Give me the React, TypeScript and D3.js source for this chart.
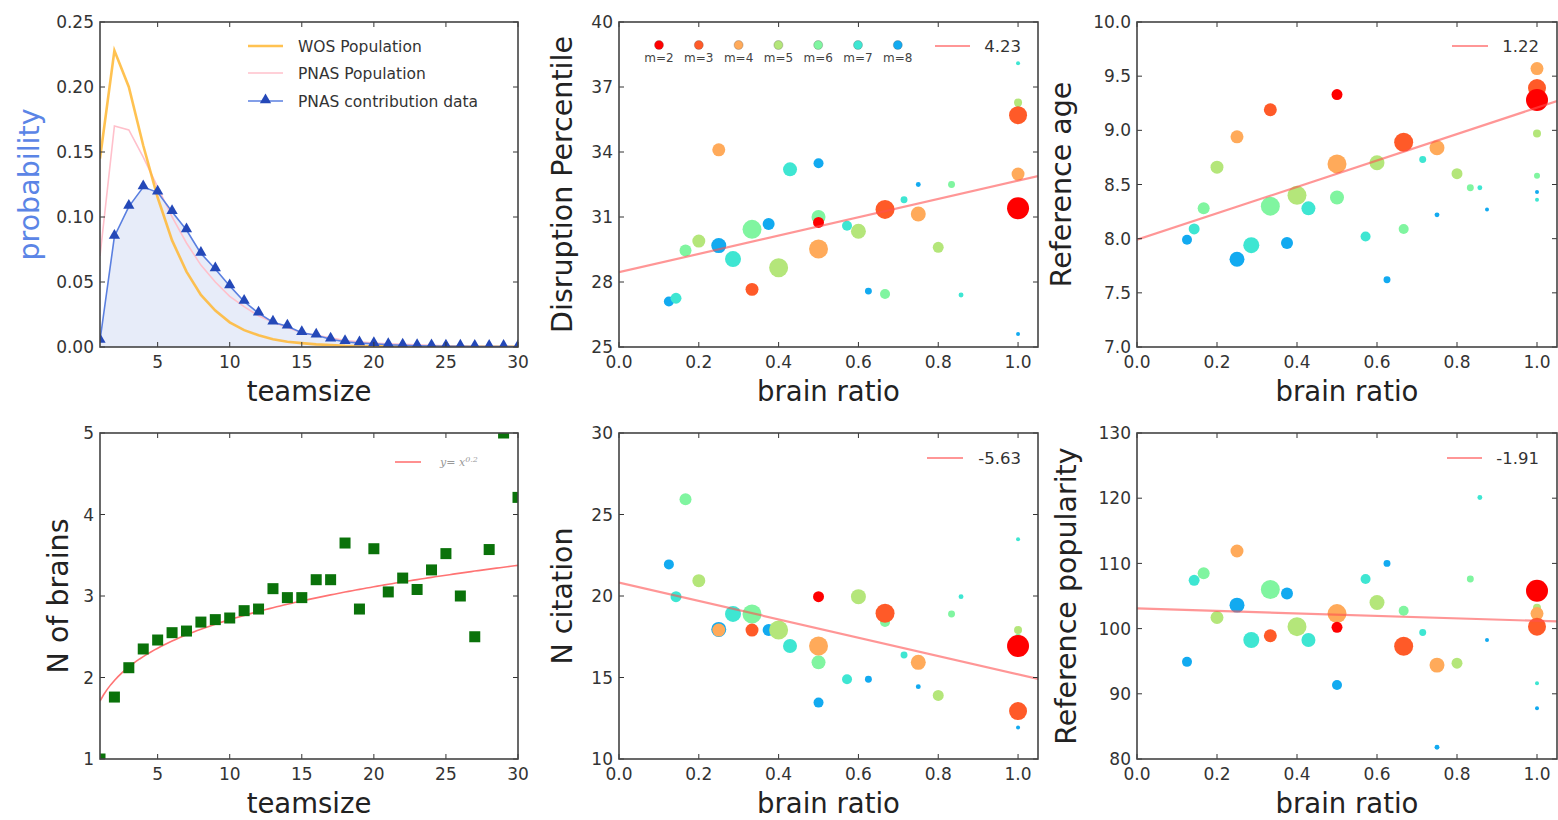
import React from 'react';
import * as d3 from 'd3';

// ---------------- data ----------------
const teamsize = [1, 2, 3, 4, 5, 6, 7, 8, 9, 10, 11, 12, 13, 14, 15, 16, 17, 18, 19, 20, 21, 22, 23, 24, 25, 26, 27, 28, 29, 30];
const teamTicks = [5, 10, 15, 20, 25, 30];
const probTicks = [0, 0.05, 0.1, 0.15, 0.2, 0.25];

const wosPopulation = [0.145, 0.228, 0.2, 0.155, 0.115, 0.082, 0.058, 0.04, 0.028, 0.019, 0.013, 0.009, 0.006, 0.004, 0.003, 0.002, 0.0015, 0.001, 0.0008, 0.0006, 0.0005, 0.0004, 0.0003, 0.0003, 0.0002, 0.0002, 0.0001, 0.0001, 0.0001, 0.0001];
const pnasPopulation = [0.07, 0.17, 0.167, 0.146, 0.123, 0.1, 0.08, 0.063, 0.05, 0.039, 0.031, 0.024, 0.019, 0.015, 0.011, 0.009, 0.007, 0.005, 0.004, 0.003, 0.0025, 0.002, 0.0016, 0.0013, 0.001, 0.0008, 0.0006, 0.0005, 0.0004, 0.0003];
const pnasContribution = [0.005, 0.085, 0.108, 0.123, 0.119, 0.104, 0.09, 0.072, 0.06, 0.047, 0.035, 0.026, 0.019, 0.016, 0.011, 0.009, 0.006, 0.004, 0.003, 0.0025, 0.0017, 0.0013, 0.001, 0.0008, 0.0006, 0.0005, 0.0004, 0.0003, 0.0003, 0.0002];

const nBrains = [1.0, 1.76, 2.12, 2.35, 2.46, 2.55, 2.57, 2.68, 2.71, 2.73, 2.82, 2.84, 3.09, 2.98, 2.98, 3.2, 3.2, 3.65, 2.84, 3.58, 3.05, 3.22, 3.08, 3.32, 3.52, 3.0, 2.5, 3.57, 5.0, 4.21];
const brainTicks = [1, 2, 3, 4, 5];
const fitCoef = 1.71;
const fitExp = 0.2;

const ratioTicks = [0, 0.2, 0.4, 0.6, 0.8, 1.0];
const mValues = [2, 3, 4, 5, 6, 7, 8];
const mColors = ['#ff0000', '#ff5a28', '#ffaa5a', '#b4e67a', '#80f5a0', '#3ee6d2', '#12aaf0'];
// marker weight per (m, k) -> area of dot
const pointWeight: Record<number, number[]> = {
  2: [30, 121],
  3: [42, 90, 81],
  4: [42, 90, 56, 42],
  5: [42, 90, 56, 30, 16],
  6: [36, 90, 49, 25, 12, 9],
  7: [30, 64, 49, 25, 12, 6, 4],
  8: [25, 56, 36, 25, 12, 6, 4, 4],
};

// [k, m, value]  (brain ratio = k / m)
const disruption: [number, number, number][] = [
  [1, 8, 27.1], [2, 8, 29.68], [3, 8, 30.68], [4, 8, 33.48], [5, 8, 27.58], [6, 8, 32.5], [8, 8, 25.6],
  [1, 7, 27.25], [2, 7, 29.06], [3, 7, 33.2], [4, 7, 30.6], [5, 7, 31.8], [6, 7, 27.4], [7, 7, 38.1],
  [1, 6, 29.45], [2, 6, 30.43], [3, 6, 31.0], [4, 6, 27.45], [5, 6, 32.5], [6, 6, 36.2],
  [1, 5, 29.89], [2, 5, 28.66], [3, 5, 30.34], [4, 5, 29.6], [5, 5, 36.28],
  [1, 4, 34.1], [2, 4, 29.52], [3, 4, 31.14], [4, 4, 32.98],
  [1, 3, 27.66], [2, 3, 31.35], [3, 3, 35.7],
  [1, 2, 30.75], [2, 2, 31.4],
];
const refAge: [number, number, number][] = [
  [1, 8, 7.99], [2, 8, 7.81], [3, 8, 7.96], [4, 8, 8.65], [5, 8, 7.62], [6, 8, 8.22], [7, 8, 8.27], [8, 8, 8.43],
  [1, 7, 8.09], [2, 7, 7.94], [3, 7, 8.28], [4, 7, 8.02], [5, 7, 8.73], [6, 7, 8.47], [7, 7, 8.36],
  [1, 6, 8.28], [2, 6, 8.3], [3, 6, 8.38], [4, 6, 8.09], [5, 6, 8.47], [6, 6, 8.58],
  [1, 5, 8.66], [2, 5, 8.4], [3, 5, 8.7], [4, 5, 8.6], [5, 5, 8.97],
  [1, 4, 8.94], [2, 4, 8.69], [3, 4, 8.84], [4, 4, 9.57],
  [1, 3, 9.19], [2, 3, 8.89], [3, 3, 9.39],
  [1, 2, 9.33], [2, 2, 9.28],
];
const nCitation: [number, number, number][] = [
  [1, 8, 21.94], [2, 8, 17.95], [3, 8, 17.91], [4, 8, 13.46], [5, 8, 14.89], [6, 8, 14.44], [8, 8, 11.94],
  [1, 7, 19.96], [2, 7, 18.9], [3, 7, 16.93], [4, 7, 14.89], [5, 7, 16.38], [6, 7, 19.96], [7, 7, 23.48],
  [1, 6, 25.93], [2, 6, 18.9], [3, 6, 15.93], [4, 6, 18.4], [5, 6, 18.9], [6, 6, 17.5],
  [1, 5, 20.94], [2, 5, 17.91], [3, 5, 19.96], [4, 5, 13.9], [5, 5, 17.91],
  [1, 4, 17.91], [2, 4, 16.93], [3, 4, 15.93], [4, 4, 17.0],
  [1, 3, 17.91], [2, 3, 18.94], [3, 3, 12.94],
  [1, 2, 19.96], [2, 2, 16.93],
];
const refPopularity: [number, number, number][] = [
  [1, 8, 94.9], [2, 8, 103.6], [3, 8, 105.4], [4, 8, 91.35], [5, 8, 110.0], [6, 8, 81.8], [7, 8, 98.25], [8, 8, 87.8],
  [1, 7, 107.4], [2, 7, 98.25], [3, 7, 98.25], [4, 7, 107.6], [5, 7, 99.4], [6, 7, 120.1], [7, 7, 91.6],
  [1, 6, 108.5], [2, 6, 106.0], [3, 6, 102.5], [4, 6, 102.75], [5, 6, 107.6], [6, 6, 103.0],
  [1, 5, 101.7], [2, 5, 100.3], [3, 5, 104.0], [4, 5, 94.7], [5, 5, 103.2],
  [1, 4, 111.9], [2, 4, 102.3], [3, 4, 94.4], [4, 4, 102.3],
  [1, 3, 98.9], [2, 3, 97.3], [3, 3, 100.3],
  [1, 2, 100.2], [2, 2, 105.8],
];
// [intercept, slope]
const disruptionFit = [28.45, 4.23];
const refAgeFit = [7.99, 1.22];
const citationFit = [20.82, -5.63];
const popularityFit = [103.1, -1.91];

// ---------------- layout ----------------
const FONT = '"DejaVu Sans", Verdana, sans-serif';
const cols = [{ x: 100, w: 418 }, { x: 619, w: 419 }, { x: 1137, w: 420 }];
const rows = [{ y: 22, h: 325 }, { y: 433, h: 326 }];
const TXT = '#333';

type Lin = d3.ScaleLinear<number, number>;

function Axes(p: {
  id: string; left: number; top: number; width: number; height: number;
  xs: Lin; ys: Lin; xTicks: number[]; yTicks: number[];
  xFmt: (v: number) => string; yFmt: (v: number) => string;
  xLabel: string; yLabel: string; yLabelX: number; yLabelColor?: string;
  children?: React.ReactNode; overlay?: React.ReactNode;
}) {
  const { left, top, width, height } = p;
  const bottom = top + height, right = left + width;
  const tl = 5;
  return (
    <g>
      <defs>
        <clipPath id={p.id}><rect x={left} y={top} width={width} height={height} /></clipPath>
      </defs>
      <g clipPath={`url(#${p.id})`}>{p.children}</g>
      {p.xTicks.map((t) => {
        const x = p.xs(t);
        return (
          <g key={'x' + t}>
            <line x1={x} x2={x} y1={bottom} y2={bottom - tl} stroke="#333" />
            <line x1={x} x2={x} y1={top} y2={top + tl} stroke="#333" />
            <text x={x} y={bottom + 21} textAnchor="middle" fontSize={17} fill={TXT}>{p.xFmt(t)}</text>
          </g>
        );
      })}
      {p.yTicks.map((t) => {
        const y = p.ys(t);
        return (
          <g key={'y' + t}>
            <line x1={left} x2={left + tl} y1={y} y2={y} stroke="#333" />
            <line x1={right} x2={right - tl} y1={y} y2={y} stroke="#333" />
            <text x={left - 6} y={y} dy="0.36em" textAnchor="end" fontSize={17} fill={TXT}>{p.yFmt(t)}</text>
          </g>
        );
      })}
      <rect x={left} y={top} width={width} height={height} fill="none" stroke="#444" strokeWidth={1.6} />
      <text x={left + width / 2} y={bottom + 54} textAnchor="middle" fontSize={27.5} fill="#222">{p.xLabel}</text>
      <text transform={`translate(${p.yLabelX},${top + height / 2}) rotate(-90)`} textAnchor="middle"
        dominantBaseline="middle" fontSize={28.5} fill={p.yLabelColor || '#222'}>{p.yLabel}</text>
      {p.overlay}
    </g>
  );
}

function ScatterPanel(props: {
  id: string; c: number; r: number; pts: [number, number, number][]; fit: number[];
  yDomain: [number, number]; yTicks: number[]; yFmt: string; yLabel: string; yLabelX: number;
  legLine: [number, number]; legY: number; mLegend?: boolean;
}) {
  const col = cols[props.c], row = rows[props.r];
  const xs = d3.scaleLinear().domain([0, 1.05]).range([col.x, col.x + col.w]);
  const ys = d3.scaleLinear().domain(props.yDomain).range([row.y + row.h, row.y]);
  const [b0, b1] = props.fit;
  const fitLine = d3.line<number>().x((d) => xs(d)).y((d) => ys(b0 + b1 * d));
  const label = props.fit[1].toFixed(2);
  const overlay = (
    <g>
      <line x1={col.x + props.legLine[0]} x2={col.x + props.legLine[1]} y1={row.y + props.legY} y2={row.y + props.legY}
        stroke="#ff5050" strokeOpacity={0.6} strokeWidth={2.2} />
      <text x={col.x + 402} y={row.y + props.legY} dy="0.36em" textAnchor="end" fontSize={16.5} fill={TXT}>{label}</text>
      {props.mLegend && mValues.map((m, i) => (
        <g key={m}>
          <circle cx={col.x + 40 + i * 39.8} cy={row.y + 23} r={4.5} fill={mColors[i]} stroke="#555" strokeWidth={0.5} strokeOpacity={0.6} />
          <text x={col.x + 40 + i * 39.8} y={row.y + 40} textAnchor="middle" fontSize={12} fill="#444">{'m=' + m}</text>
        </g>
      ))}
    </g>
  );
  return (
    <Axes id={props.id} left={col.x} top={row.y} width={col.w} height={row.h} xs={xs} ys={ys}
      xTicks={ratioTicks} yTicks={props.yTicks} xFmt={d3.format('.1f')} yFmt={d3.format(props.yFmt)}
      xLabel="brain ratio" yLabel={props.yLabel} yLabelX={props.yLabelX} overlay={overlay}>
      {props.pts.map(([k, m, v], i) => (
        <circle key={i} cx={xs(k / m)} cy={ys(v)} r={Math.sqrt(pointWeight[m][k - 1])}
          fill={mColors[mValues.indexOf(m)]} />
      ))}
      <path d={fitLine([0, 1.05]) || ''} stroke="#ff5050" strokeOpacity={0.6} strokeWidth={2.2} fill="none" />
    </Axes>
  );
}

function TeamsizePanel() {
  const col = cols[0], row = rows[0];
  const xs = d3.scaleLinear().domain([1, 30]).range([col.x, col.x + col.w]);
  const ys = d3.scaleLinear().domain([0, 0.25]).range([row.y + row.h, row.y]);
  const line = (vals: number[]) => d3.line<number>().x((d) => xs(d)).y((d, i) => ys(vals[i]))(teamsize) || '';
  const area = d3.area<number>().x((d) => xs(d)).y0(ys(0)).y1((d, i) => ys(pnasContribution[i]))(teamsize) || '';
  const tri = d3.symbol().type(d3.symbolTriangle).size(55)() || '';
  const lx0 = col.x + 148, lx1 = col.x + 183, tx = col.x + 198;
  const overlay = (
    <g fontSize={15.5} fill={TXT}>
      <line x1={lx0} x2={lx1} y1={row.y + 24} y2={row.y + 24} stroke="#ffb733" strokeOpacity={0.85} strokeWidth={2.6} />
      <text x={tx} y={row.y + 24} dy="0.36em">WOS Population</text>
      <line x1={lx0} x2={lx1} y1={row.y + 51} y2={row.y + 51} stroke="#ffc0cb" strokeWidth={1.6} />
      <text x={tx} y={row.y + 51} dy="0.36em">PNAS Population</text>
      <line x1={lx0} x2={lx1} y1={row.y + 79} y2={row.y + 79} stroke="#5a7fe0" strokeWidth={1.6} />
      <path d={tri} transform={`translate(${(lx0 + lx1) / 2},${row.y + 78})`} fill="#2448b8" />
      <text x={tx} y={row.y + 79} dy="0.36em">PNAS contribution data</text>
    </g>
  );
  return (
    <Axes id="clipTL" left={col.x} top={row.y} width={col.w} height={row.h} xs={xs} ys={ys}
      xTicks={teamTicks} yTicks={probTicks} xFmt={d3.format('d')} yFmt={d3.format('.2f')}
      xLabel="teamsize" yLabel="probability" yLabelX={31} yLabelColor="#5b85e6" overlay={overlay}>
      <path d={area} fill="#dfe6f7" fillOpacity={0.75} />
      <path d={line(pnasPopulation)} stroke="#ffc0cb" strokeWidth={1.6} fill="none" />
      <path d={line(wosPopulation)} stroke="#ffb733" strokeOpacity={0.85} strokeWidth={2.6} fill="none" />
      <path d={line(pnasContribution)} stroke="#5a7fe0" strokeWidth={1.6} fill="none" />
      {teamsize.map((t, i) => (
        <path key={t} d={tri} transform={`translate(${xs(t)},${ys(pnasContribution[i]) - 1})`} fill="#2448b8" />
      ))}
    </Axes>
  );
}

function BrainsPanel() {
  const col = cols[0], row = rows[1];
  const xs = d3.scaleLinear().domain([1, 30]).range([col.x, col.x + col.w]);
  const ys = d3.scaleLinear().domain([1, 5]).range([row.y + row.h, row.y]);
  const fitX = d3.range(1, 30.01, 0.25);
  const fit = d3.line<number>().x((d) => xs(d)).y((d) => ys(fitCoef * Math.pow(d, fitExp)))(fitX) || '';
  const s = 11;
  const overlay = (
    <g>
      <line x1={col.x + 295} x2={col.x + 321} y1={row.y + 29} y2={row.y + 29} stroke="#ff5050" strokeOpacity={0.8} strokeWidth={1.6} />
      <text x={col.x + 340} y={row.y + 29} dy="0.36em" fontSize={11} fill="#999" fontFamily='"DejaVu Serif", serif' fontStyle="italic">
        y<tspan fontStyle="normal">=</tspan> x<tspan dy={-4} fontSize={8}>0.2</tspan>
      </text>
    </g>
  );
  return (
    <Axes id="clipBL" left={col.x} top={row.y} width={col.w} height={row.h} xs={xs} ys={ys}
      xTicks={teamTicks} yTicks={brainTicks} xFmt={d3.format('d')} yFmt={d3.format('d')}
      xLabel="teamsize" yLabel="N of brains" yLabelX={60} overlay={overlay}>
      <path d={fit} stroke="#ff5050" strokeOpacity={0.8} strokeWidth={1.6} fill="none" />
      {teamsize.map((t, i) => (
        <rect key={t} x={xs(t) - s / 2} y={ys(nBrains[i]) - s / 2} width={s} height={s} fill="#0a720a" />
      ))}
    </Axes>
  );
}

export default function App() {
  return (
    <svg width={1558} height={820} style={{ position: 'absolute', left: 0, top: 0, background: '#fff' }}
      fontFamily={FONT}>
      <rect x={0} y={0} width={1558} height={820} fill="#fff" />
      <TeamsizePanel />
      <ScatterPanel id="clipTM" c={1} r={0} pts={disruption} fit={disruptionFit} yDomain={[25, 40]}
        yTicks={[25, 28, 31, 34, 37, 40]} yFmt="d" yLabel="Disruption Percentile" yLabelX={564}
        legLine={[316, 351]} legY={24} mLegend />
      <ScatterPanel id="clipTR" c={2} r={0} pts={refAge} fit={refAgeFit} yDomain={[7, 10]}
        yTicks={[7, 7.5, 8, 8.5, 9, 9.5, 10]} yFmt=".1f" yLabel="Reference age" yLabelX={1063}
        legLine={[315, 351]} legY={24} />
      <BrainsPanel />
      <ScatterPanel id="clipBM" c={1} r={1} pts={nCitation} fit={citationFit} yDomain={[10, 30]}
        yTicks={[10, 15, 20, 25, 30]} yFmt="d" yLabel="N citation" yLabelX={564}
        legLine={[308, 344]} legY={25} />
      <ScatterPanel id="clipBR" c={2} r={1} pts={refPopularity} fit={popularityFit} yDomain={[80, 130]}
        yTicks={[80, 90, 100, 110, 120, 130]} yFmt="d" yLabel="Reference popularity" yLabelX={1068}
        legLine={[310, 345]} legY={25} />
    </svg>
  );
}
